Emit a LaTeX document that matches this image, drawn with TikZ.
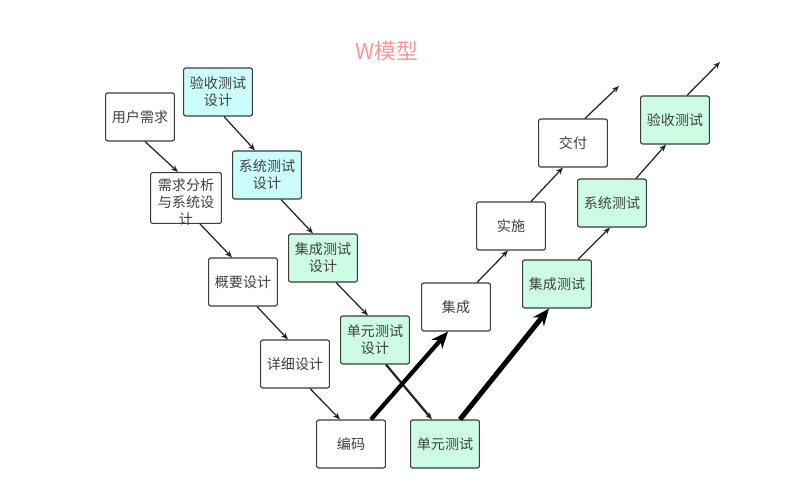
\documentclass[tikz,border=0pt]{standalone}
\usepackage{fontspec}
\newfontfamily\cjk{Noto Sans CJK SC}
\usetikzlibrary{arrows.meta,calc}
\definecolor{testcyan}{RGB}{204,253,253}
\definecolor{testmint}{RGB}{204,253,228}
\definecolor{titlepink}{RGB}{255,150,150}
\definecolor{boxline}{RGB}{60,60,60}
\tikzset{
  stage/.style={draw=boxline,line width=0.8pt,rounded corners=1.5pt,fill=white,
    minimum width=1.72cm,minimum height=1.2cm,inner sep=1pt,align=center,
    text=black!75,font=\cjk\fontsize{10}{12}\selectfont},
  plan/.style={stage,fill=testcyan},
  check/.style={stage,fill=testmint},
  flow/.style={-{Stealth[length=5pt,width=4pt]},line width=0.9pt,black!85},
  bigflow/.style={-{Stealth[length=12pt,width=10pt]},line width=3pt,black}
}
\begin{document}
\begin{tikzpicture}[x=0.025cm,y=-0.025cm]
      \useasboundingbox (0,0) rectangle (808,503);
      \node[font=\cjk\fontsize{15.5}{18}\selectfont,text=titlepink] (title) at (387,51) {W模型};
      \draw
        (140,117) node[stage] (user){用户需求}
        (186,198) node[stage] (req){\parbox[c][1.2cm][t]{1.7cm}{\centering\vspace{3.5pt}需求分析\\与系统设\\计}}
        (243,282) node[stage] (outline){概要设计}
        (295,364) node[stage] (detail){详细设计}
        (351,444) node[stage] (code){编码}
        (218,92) node[plan] (accplan){验收测试\\设计}
        (267,175) node[plan] (sysplan){系统测试\\设计}
        (323,258) node[check] (intplan){集成测试\\设计}
        (375,340) node[check] (unitplan){单元测试\\设计}
        (445,444) node[check] (unit){单元测试}
        (456,307) node[stage] (integ){集成}
        (511,226) node[stage] (impl){实施}
        (573,143) node[stage] (deliver){交付}
        (557,284) node[check] (inttest){集成测试}
        (612,203) node[check] (systest){系统测试}
        (675,120) node[check] (acctest){验收测试};
      \coordinate (deliverend) at (619,86);
      \coordinate (accend) at (720,62);
      \begin{scope}[flow]
        \draw ($(user.south)+(5,0)$) to ($(req.north)+(-8,0)$);
        \draw ($(req.south)+(14,0)$) to ($(outline.north)+(-11,0)$);
        \draw ($(outline.south)+(14,0)$) to ($(detail.north)+(-7,0)$);
        \draw ($(detail.south)+(15,0)$) to ($(code.north)+(-11,0)$);
        \draw ($(accplan.south)+(6,0)$) to ($(sysplan.north)+(-12,0)$);
        \draw ($(sysplan.south)+(14,0)$) to ($(intplan.north)+(-10,0)$);
        \draw ($(intplan.south)+(13,0)$) to ($(unitplan.north)+(-7,0)$);
        \draw[line width=1.6pt] ($(unitplan.south)+(11,0)$) to ($(unit.north)+(-13,0)$);
        \draw ($(integ.north)+(21,0)$) to ($(impl.south)+(-3,0)$);
        \draw ($(impl.north)+(20,0)$) to ($(deliver.south)+(-10,0)$);
        \draw ($(deliver.north)+(12,0)$) to (deliverend);
        \draw ($(inttest.north)+(21,0)$) to ($(systest.south)+(-2,0)$);
        \draw ($(systest.north)+(24,0)$) to ($(acctest.south)+(-9,0)$);
        \draw ($(acctest.north)+(12,0)$) to (accend);
      \end{scope}
      \begin{scope}[bigflow]
        \draw ($(code.north)+(20,0)$) to ($(integ.south)+(-8,0)$);
        \draw[line width=3.6pt] ($(unit.north)+(15,0)$) to ($(inttest.south)+(-8,0)$);
      \end{scope}
    \end{tikzpicture}
\end{document}
